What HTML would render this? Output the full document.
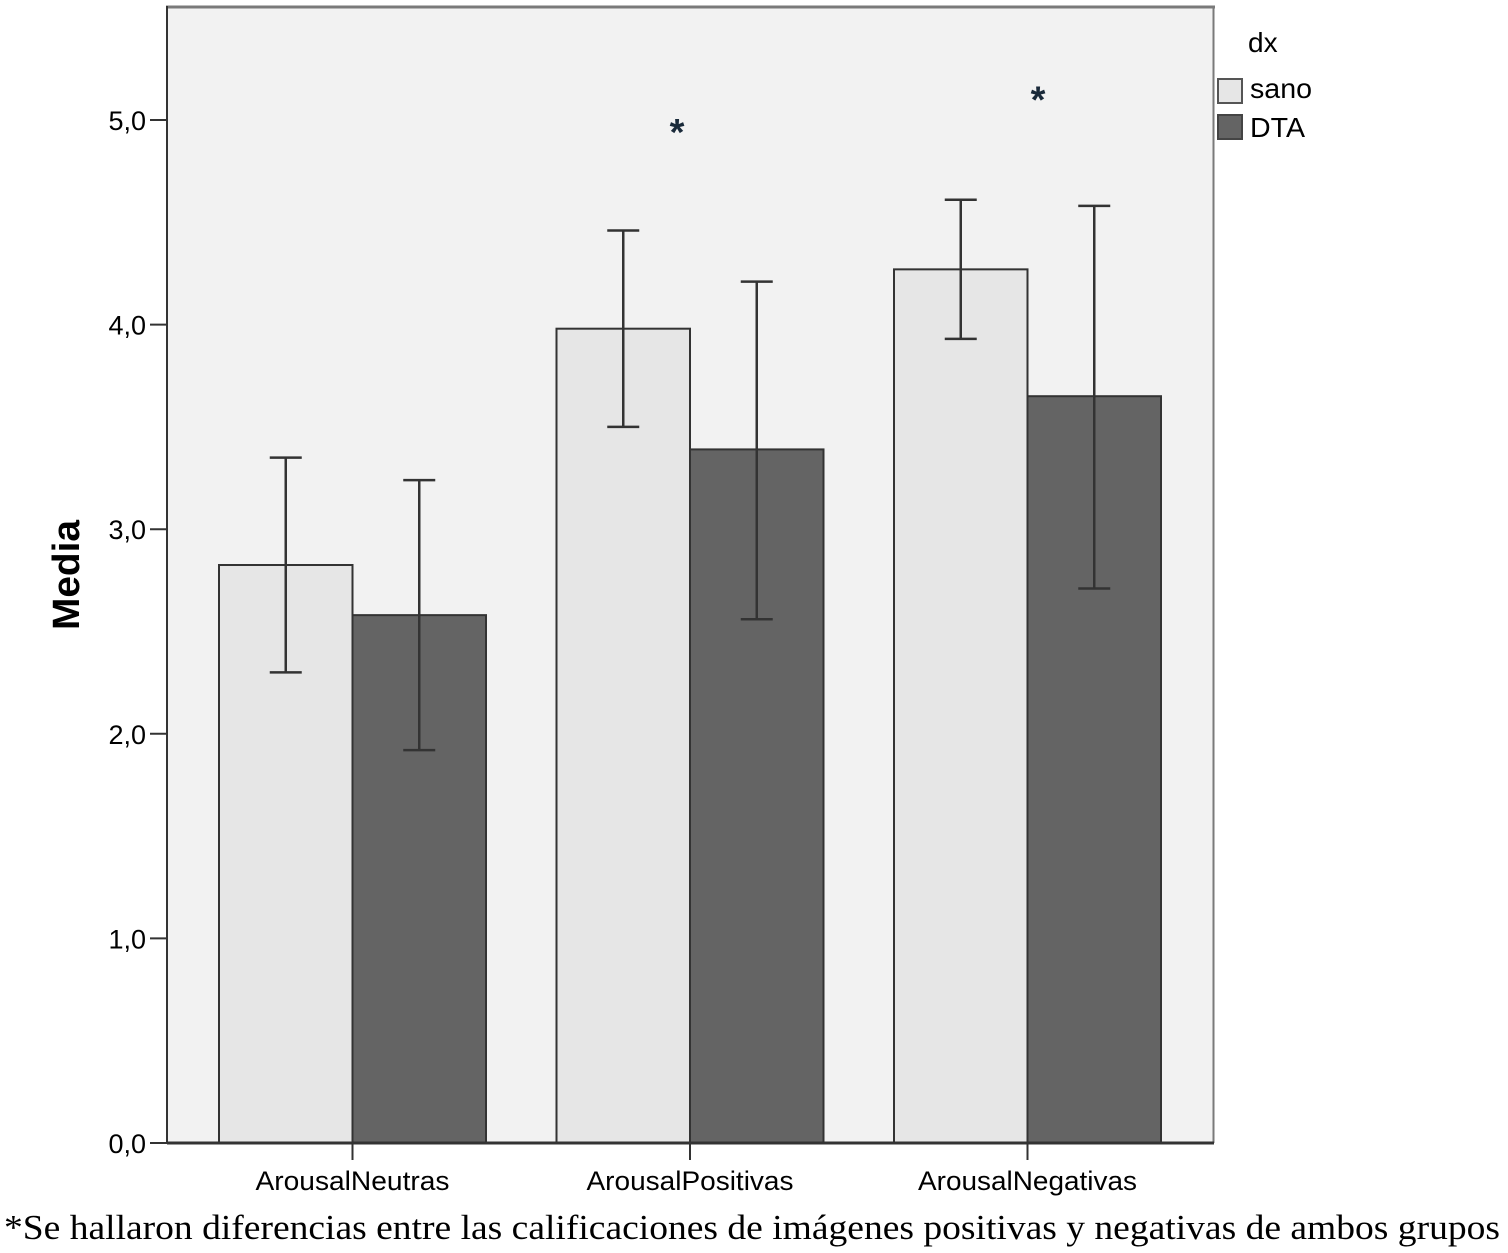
<!DOCTYPE html>
<html><head><meta charset="utf-8"><style>
body{margin:0;background:#fff;width:1508px;height:1253px;overflow:hidden}
svg{display:block}
text{font-family:"Liberation Sans",Arial,sans-serif}
</style></head><body>
<svg id="chart" width="1508" height="1253">
  <rect x="167" y="6" width="1047" height="1137" fill="#f2f2f2"/>
  <line x1="166" y1="7" x2="1215" y2="7" stroke="#7a7a7a" stroke-width="3"/>
  <line x1="1213.5" y1="6" x2="1213.5" y2="1143" stroke="#7a7a7a" stroke-width="2"/>
  <g id="bars"></g>
  <g id="axes"></g>
  <text transform="translate(79,575) rotate(-90)" text-anchor="middle" font-size="38" font-weight="bold" fill="#000" textLength="110" lengthAdjust="spacingAndGlyphs">Media</text>
  <text x="1248" y="52" font-size="28" fill="#000">dx</text>
  <rect x="1218" y="79" width="24" height="24" fill="#e6e6e6" stroke="#555" stroke-width="2"/>
  <text x="1250" y="98" font-size="28" fill="#000" textLength="62" lengthAdjust="spacingAndGlyphs">sano</text>
  <rect x="1218" y="115" width="24" height="24" fill="#646464" stroke="#444" stroke-width="2"/>
  <text x="1250" y="137" font-size="28" fill="#000" textLength="55" lengthAdjust="spacingAndGlyphs">DTA</text>
  <text x="4" y="1239" font-size="35" fill="#000" style="font-family:'Liberation Serif',serif" textLength="1496" lengthAdjust="spacingAndGlyphs">*Se hallaron diferencias entre las calificaciones de imágenes positivas y negativas de ambos grupos</text>
</svg>
<script>
const categories=["ArousalNeutras","ArousalPositivas","ArousalNegativas"];
const sanoValues=[2.825,3.98,4.27];
const dtaValues=[2.58,3.39,3.65];
const sanoUpper=[3.35,4.46,4.61];
const sanoLower=[2.30,3.50,3.93];
const dtaUpper=[3.24,4.21,4.58];
const dtaLower=[1.92,2.56,2.71];
const significance=[null,4.97,5.13];
const yTicks=[0,1,2,3,4,5];
const yTickLabels=["0,0","1,0","2,0","3,0","4,0","5,0"];

const NS="http://www.w3.org/2000/svg";
const y0=1143, unit=204.6;
function yScale(v){return y0-v*unit;}
const groupCenters=[352.5,690,1027.5];
const labelWidths=[194,207,219];
const barW=133.5;
function xGroup(i){return groupCenters[i];}
function mk(tag,attrs,parent){const e=document.createElementNS(NS,tag);for(const k in attrs)e.setAttribute(k,attrs[k]);parent.appendChild(e);return e;}
const bars=document.getElementById('bars'), axes=document.getElementById('axes');

categories.forEach((c,i)=>{
  const cx=xGroup(i);
  const series=[{v:sanoValues[i],u:sanoUpper[i],l:sanoLower[i],fill:"#e6e6e6",x:cx-barW,n:"sano"},
                {v:dtaValues[i],u:dtaUpper[i],l:dtaLower[i],fill:"#646464",x:cx,n:"dta"}];
  series.forEach(s=>{
    const r=mk('rect',{x:s.x,y:yScale(s.v),width:barW,height:y0-yScale(s.v),fill:s.fill,stroke:"#333",'stroke-width':2},bars);
    
    
    const mx=s.x+barW/2;
    const g=mk('g',{stroke:"#333",'stroke-width':2.5},bars);
    
    
    mk('line',{x1:mx,x2:mx,y1:yScale(s.u),y2:yScale(s.l)},g);
    mk('line',{x1:mx-16,x2:mx+16,y1:yScale(s.u),y2:yScale(s.u)},g);
    mk('line',{x1:mx-16,x2:mx+16,y1:yScale(s.l),y2:yScale(s.l)},g);
  });
  if(significance[i]!==null){
    const sx=[0,677,1038][i];
    const st=mk('text',{x:sx,y:yScale(significance[i])+19,'text-anchor':'middle','font-size':38,'font-weight':'bold',fill:"#1a2a3a"},bars);
    st.textContent="*";
    
    
  }
  const tk=mk('line',{x1:cx,x2:cx,y1:y0,y2:y0+17,stroke:"#333",'stroke-width':2},axes);
  
  
  const tl=mk('text',{x:cx,y:1190,'text-anchor':'middle','font-size':27,fill:"#000",textLength:labelWidths[i],lengthAdjust:'spacingAndGlyphs'},axes);
  tl.textContent=c;
  
  
});
yTicks.forEach((t,i)=>{
  const y=yScale(t);
  const l=mk('line',{x1:150,x2:167,y1:y,y2:y,stroke:"#333",'stroke-width':2},axes);
  
  
  const tx=mk('text',{x:146,y:y+10,'text-anchor':'end','font-size':27,fill:"#000"},axes);
  tx.textContent=yTickLabels[i];
  
  
});
const ya=mk('line',{x1:167,x2:167,y1:6,y2:y0,stroke:"#333",'stroke-width':2},axes);


const xa=mk('line',{x1:167,x2:1214,y1:y0,y2:y0,stroke:"#333",'stroke-width':3},axes);


</script>
</body></html>
